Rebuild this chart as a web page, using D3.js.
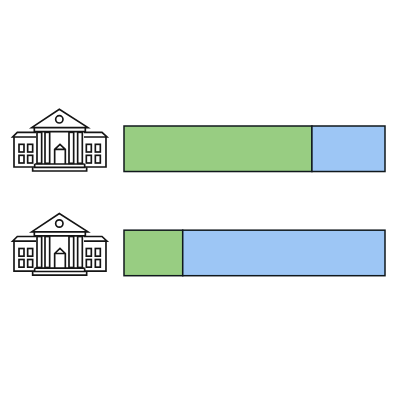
<!DOCTYPE html>
<html>
<head>
<meta charset="utf-8">
<script src="https://cdnjs.cloudflare.com/ajax/libs/d3/7.8.5/d3.min.js"></script>
<style>html,body{margin:0;padding:0;background:#fff}svg{display:block}</style>
</head>
<body>
<svg id="c" width="400" height="400" role="img" aria-label="Two stacked bars, each beside a building icon"></svg>
<script>
const categories = ["Building A", "Building B"];
const greenValues = [72, 22.5];
const blueValues = [28, 77.5];
const segmentColors = ["#98cd82", "#9dc6f5"];

const svg = d3.select("#c");
const x = d3.scaleLinear().domain([0, 100]).range([124, 385]);
const y = d3.scaleBand().domain(categories).range([126, 275.7]).paddingInner(0.563).paddingOuter(0);

const rows = svg.selectAll("g.row").data(categories).join("g").attr("class", "row");

rows.each(function (cat, i) {
  const g = d3.select(this);
  const segs = d3.stack().keys(["green", "blue"])([{ green: greenValues[i], blue: blueValues[i] }]);
  g.selectAll("rect").data(segs).join("rect")
    .attr("x", d => x(d[0][0]))
    .attr("y", y(cat))
    .attr("width", d => x(d[0][1]) - x(d[0][0]))
    .attr("height", y.bandwidth())
    .attr("fill", (d, j) => segmentColors[j])
    .attr("stroke", "#10181c")
    .attr("stroke-width", 1.5);
});

// Building icon, authored in a 3x grid of the reference crop
function icon(sel) {
  const s = sel.append("g").attr("fill", "none").attr("stroke", "#151515").attr("stroke-width", 5).attr("stroke-linejoin", "miter");
  // wings
  s.append("path").attr("d", "M108 97H52L38 111H108M42 111V201H104M252 97H306L321 111H252M318 111V201H254");
  // pediment and entablature
  s.append("path").attr("fill", "#fff").attr("d", "M95 83L178 28L264 83Z");
  s.append("path").attr("d", "M103 83V95H256V83");
  s.append("circle").attr("cx", 178).attr("cy", 58).attr("r", 11);
  // columns
  for (const cx of [118, 142, 214, 240]) {
    s.append("rect").attr("x", cx - 7).attr("y", 97).attr("width", 14).attr("height", 93);
  }
  // door
  s.append("path").attr("d", "M164 192V148L180 133L196 148V192M164 148H196");
  // windows
  for (const wx of [57, 83, 259, 286]) {
    for (const wy of [133, 166]) {
      s.append("rect").attr("x", wx).attr("y", wy).attr("width", 15).attr("height", 23);
    }
  }
  // steps
  s.append("path").attr("d", "M104 192H254M104 192V202H254V192");
  s.append("path").attr("d", "M98 202V213H260V202");
}

rows.append("g")
  .attr("transform", cat => `translate(0,${y(cat) - y(categories[0]) + 100}) scale(0.3333)`)
  .call(icon);
</script>
</body>
</html>
